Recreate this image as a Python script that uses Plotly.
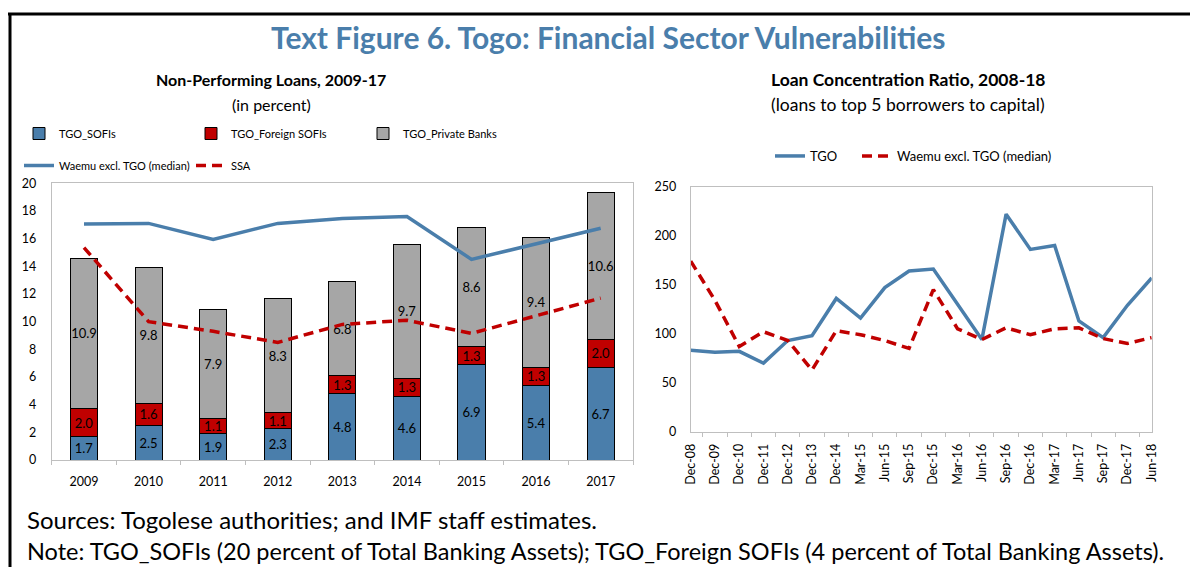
import plotly.graph_objects as go

# ---------------- data ----------------
years = ["2009", "2010", "2011", "2012", "2013", "2014", "2015", "2016", "2017"]
tgo_sofis = [1.7, 2.5, 1.9, 2.3, 4.8, 4.6, 6.9, 5.4, 6.7]
tgo_foreign_sofis = [2.0, 1.6, 1.1, 1.1, 1.3, 1.3, 1.3, 1.3, 2.0]
tgo_private_banks = [10.9, 9.8, 7.9, 8.3, 6.8, 9.7, 8.6, 9.4, 10.6]
waemu_npl = [17.05, 17.1, 15.95, 17.1, 17.45, 17.6, 14.5, 15.65, 16.75]
ssa_npl = [15.35, 10.0, 9.3, 8.5, 9.8, 10.1, 9.15, 10.4, 11.7]

periods = ["Dec-08", "Dec-09", "Dec-10", "Dec-11", "Dec-12", "Dec-13", "Dec-14",
           "Mar-15", "Jun-15", "Sep-15", "Dec-15", "Mar-16", "Jun-16", "Sep-16",
           "Dec-16", "Mar-17", "Jun-17", "Sep-17", "Dec-17", "Jun-18"]
tgo_conc = [83, 81, 82, 70, 93, 98, 136, 116, 147, 164, 166, 130, 94, 222,
            186, 190, 113, 96, 129, 157]
waemu_conc = [174, 134, 87, 102, 93, 63, 103, 99, 93, 85, 145, 105, 94, 106,
              99, 105, 106, 95, 90, 96]

BLUE = "#4A7EAB"
RED = "#C00000"
GREY = "#A6A6A6"
FONT = "Lato"
OFF = 8  # page body margin
W, H = 1198 - OFF, 567 - OFF


def px(x):
    return (x - OFF) / W


def py(y):
    return 1 - (y - OFF) / H


fig = go.Figure()

bar_common = dict(x=years, xaxis="x", yaxis="y", width=0.42,
                  marker_line=dict(color="black", width=1),
                  texttemplate="%{y:.1f}", textposition="inside",
                  insidetextanchor="middle", textangle=0,
                  textfont=dict(color="black", size=13, family=FONT),
                  legend="legend", hoverinfo="skip")
fig.add_trace(go.Bar(name="TGO_SOFIs", y=tgo_sofis, marker_color=BLUE, **bar_common))
fig.add_trace(go.Bar(name="TGO_Foreign SOFIs", y=tgo_foreign_sofis, marker_color=RED, **bar_common))
fig.add_trace(go.Bar(name="TGO_Private Banks", y=tgo_private_banks, marker_color=GREY, **bar_common))

DASH = "10px,6px"
fig.add_trace(go.Scatter(name="Waemu excl. TGO (median)", x=years, y=waemu_npl,
                         mode="lines", line=dict(color=BLUE, width=3.5),
                         xaxis="x", yaxis="y", legend="legend3"))
fig.add_trace(go.Scatter(name="SSA", x=years, y=ssa_npl, mode="lines",
                         line=dict(color=RED, width=3.5, dash=DASH),
                         xaxis="x", yaxis="y", legend="legend3"))

fig.add_trace(go.Scatter(name="TGO", x=periods, y=tgo_conc, mode="lines",
                         line=dict(color=BLUE, width=3.5),
                         xaxis="x2", yaxis="y2", legend="legend2"))
fig.add_trace(go.Scatter(name="Waemu excl. TGO (median)", x=periods, y=waemu_conc,
                         mode="lines", line=dict(color=RED, width=3.5, dash=DASH),
                         xaxis="x2", yaxis="y2", legend="legend4"))

axis_common = dict(showline=True, linecolor="#BFBFBF", linewidth=1, mirror=True,
                   showgrid=False, zeroline=False, automargin=False,
                   tickfont=dict(size=12.5, family=FONT, color="black"))

legend_common = dict(orientation="h", xanchor="left", yanchor="top",
                     traceorder="normal", bgcolor="rgba(0,0,0,0)")

fig.update_layout(
    width=W, height=H,
    margin=dict(l=0, r=0, t=0, b=0, autoexpand=False),
    paper_bgcolor="white", plot_bgcolor="white",
    barmode="stack",
    uniformtext=dict(minsize=12, mode="show"),
    font=dict(family=FONT, color="black"),
    xaxis=dict(domain=[px(51.7), px(633)], anchor="y", type="category",
               ticks="outside", tickson="boundaries", ticklen=4, tickcolor="#BFBFBF",
               ticklabelstandoff=10, **axis_common),
    yaxis=dict(domain=[py(460), py(183.3)], anchor="x", range=[0, 20], dtick=2,
               ticks="", ticklabelstandoff=12, **axis_common),
    xaxis2=dict(domain=[px(690.7), px(1151.7)], anchor="y2", type="category",
                ticks="outside", tickson="boundaries", ticklen=4, tickcolor="#BFBFBF",
                tickangle=-90, ticklabelstandoff=6, **axis_common),
    yaxis2=dict(domain=[py(431.7), py(186.7)], anchor="x2", range=[0, 250], dtick=50,
                ticks="", ticklabelstandoff=11, **axis_common),
    legend=dict(x=px(19), y=py(119), entrywidth=127, entrywidthmode="pixels",
                font=dict(size=11, family=FONT), **legend_common),
    legend3=dict(x=px(19), y=py(151), entrywidth=127, entrywidthmode="pixels",
                 font=dict(size=11, family=FONT), **legend_common),
    legend2=dict(x=px(770), y=py(141), font=dict(size=13, family=FONT), **legend_common),
    legend4=dict(x=px(857), y=py(141), font=dict(size=13, family=FONT), **legend_common),
    showlegend=True,
)

annotations = [
    dict(text="<b>Text Figure 6. Togo: Financial Sector Vulnerabilities</b>",
         x=px(608), y=py(37), font=dict(size=30, color="#4A7EAB", family=FONT)),
    dict(text="<b>Non-Performing Loans, 2009-17</b>", x=px(271), y=py(80),
         font=dict(size=16, family=FONT)),
    dict(text="(in percent)", x=px(271), y=py(104), font=dict(size=16, family=FONT)),
    dict(text="<b>Loan Concentration Ratio, 2008-18</b>", x=px(908), y=py(80),
         font=dict(size=17.5, family=FONT)),
    dict(text="(loans to top 5 borrowers to capital)", x=px(908), y=py(104),
         font=dict(size=17.5, family=FONT)),
]
for a in annotations:
    a.update(xref="paper", yref="paper", showarrow=False, xanchor="center", yanchor="middle")
annotations += [
    dict(text="Sources: Togolese authorities; and IMF staff estimates.",
         x=px(25), y=py(519), xref="paper", yref="paper", showarrow=False,
         xanchor="left", yanchor="middle", font=dict(size=24, family=FONT)),
    dict(text="Note: TGO_SOFIs (20 percent of Total Banking Assets); TGO_Foreign SOFIs (4 percent of Total Banking Assets).",
         x=px(25), y=py(551), xref="paper", yref="paper", showarrow=False,
         xanchor="left", yanchor="middle", font=dict(size=23.5, family=FONT)),
]
fig.update_layout(annotations=annotations)

fig.update_layout(shapes=[
    dict(type="line", xref="paper", yref="paper", x0=px(8), x1=1, y0=py(14), y1=py(14),
         line=dict(color="black", width=3)),
    dict(type="line", xref="paper", yref="paper", x0=px(10), x1=px(10), y0=py(14), y1=0,
         line=dict(color="black", width=3)),
])

fig.write_html("out.html")
